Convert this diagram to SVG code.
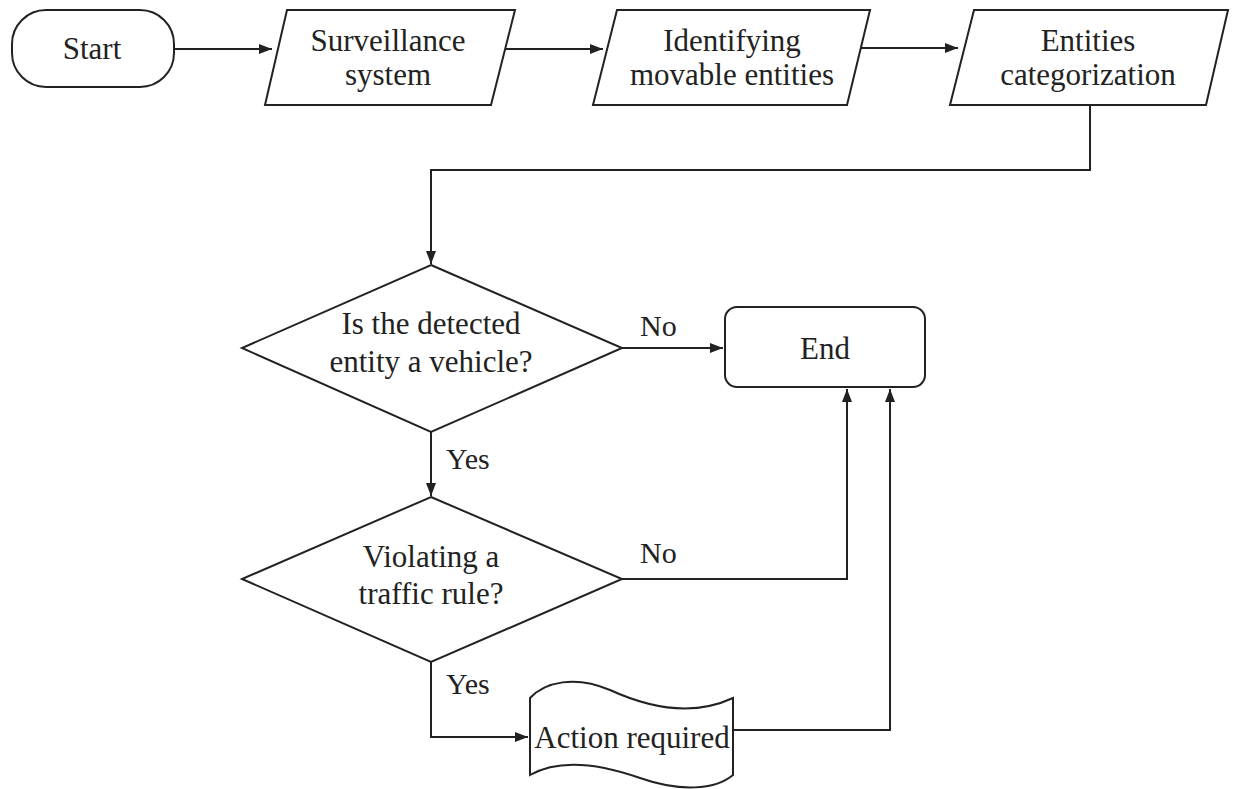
<svg xmlns="http://www.w3.org/2000/svg" width="1233" height="789" viewBox="0 0 1233 789">
  <defs>
    <marker id="arrow" viewBox="0 0 13 10" refX="13" refY="5" markerWidth="13" markerHeight="10" markerUnits="userSpaceOnUse" orient="auto">
      <path d="M0,0 L13,5 L0,10 z" fill="#222"/>
    </marker>
    <style>
      .shape { fill: #fff; stroke: #222; stroke-width: 2; }
      .line { fill: none; stroke: #222; stroke-width: 2; }
      .txt { font-family: "Liberation Serif", "Times New Roman", serif; font-size: 31px; fill: #222; text-anchor: middle; }
      .lbl { font-family: "Liberation Serif", "Times New Roman", serif; font-size: 30px; fill: #222; }
    </style>
  </defs>
  <rect width="1233" height="789" fill="#fff"/>

  <!-- connectors with their branch labels -->
  <g id="connectors">
    <line class="line" x1="173" y1="49" x2="272" y2="49" marker-end="url(#arrow)"/>
    <line class="line" x1="505" y1="49" x2="603" y2="49" marker-end="url(#arrow)"/>
    <line class="line" x1="861" y1="48" x2="958" y2="48" marker-end="url(#arrow)"/>
    <polyline class="line" points="1090,105 1090,170 431,170 431,264" marker-end="url(#arrow)"/>
    <line class="line" x1="622" y1="348" x2="723" y2="348" marker-end="url(#arrow)"/>
    <line class="line" x1="431" y1="432" x2="431" y2="496" marker-end="url(#arrow)"/>
    <polyline class="line" points="622,579 847,579 847,389" marker-end="url(#arrow)"/>
    <polyline class="line" points="431,662 431,737 528,737" marker-end="url(#arrow)"/>
    <polyline class="line" points="733,730 890,730 890,389" marker-end="url(#arrow)"/>
    <text class="lbl" x="640" y="336">No</text>
    <text class="lbl" x="446" y="469">Yes</text>
    <text class="lbl" x="640" y="563">No</text>
    <text class="lbl" x="446" y="694">Yes</text>
  </g>

  <g id="start">
    <rect class="shape" x="12" y="10" width="162" height="77" rx="34" ry="34"/>
    <text class="txt" x="92" y="59">Start</text>
  </g>

  <g id="surveillance">
    <polygon class="shape" points="287,10 515,10 491,105 265,105"/>
    <text class="txt" x="388" y="51">Surveillance</text>
    <text class="txt" x="388" y="85">system</text>
  </g>

  <g id="identifying">
    <polygon class="shape" points="617,10 870,10 847,105 593,105"/>
    <text class="txt" x="732" y="51">Identifying</text>
    <text class="txt" x="732" y="85">movable entities</text>
  </g>

  <g id="categorization">
    <polygon class="shape" points="974,10 1228,10 1206,105 950,105"/>
    <text class="txt" x="1088" y="51">Entities</text>
    <text class="txt" x="1088" y="85">categorization</text>
  </g>

  <g id="is-vehicle">
    <polygon class="shape" points="431,265 622,348 431,432 242,348"/>
    <text class="txt" x="431" y="334">Is the detected</text>
    <text class="txt" x="431" y="372">entity a vehicle?</text>
  </g>

  <g id="end">
    <rect class="shape" x="725" y="307" width="200" height="80" rx="12" ry="12"/>
    <text class="txt" x="825" y="359">End</text>
  </g>

  <g id="violating">
    <polygon class="shape" points="431,497 622,579 431,662 242,579"/>
    <text class="txt" x="431" y="567">Violating a</text>
    <text class="txt" x="431" y="604">traffic rule?</text>
  </g>

  <g id="action">
    <path class="shape" d="M530,698 C545,682 575,675 610,690 C645,706 690,718 733,698 L733,775 C715,790 680,792 640,778 C600,764 560,758 530,775 Z"/>
    <text class="txt" x="632" y="748">Action required</text>
  </g>
</svg>
